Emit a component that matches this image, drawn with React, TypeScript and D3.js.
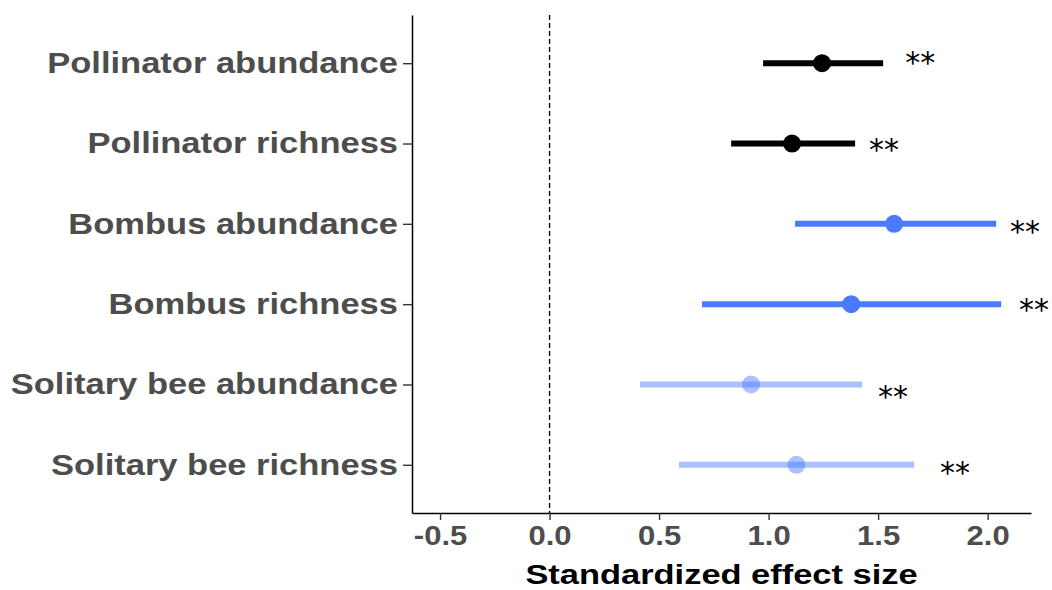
import * as d3 from 'd3';
import { useEffect, useRef } from 'react';

// effect sizes, top row first
const responses = [
  'Pollinator abundance',
  'Pollinator richness',
  'Bombus abundance',
  'Bombus richness',
  'Solitary bee abundance',
  'Solitary bee richness',
];
const estimates = [1.244, 1.107, 1.573, 1.377, 0.92, 1.127];
const lower = [0.975, 0.829, 1.121, 0.696, 0.413, 0.591];
const upper = [1.523, 1.395, 2.039, 2.062, 1.427, 1.665];
const groups = ['all', 'all', 'bombus', 'bombus', 'solitary', 'solitary'];
const signif = ['**', '**', '**', '**', '**', '**'];
// where the significance stars sit (data units)
const starX = [1.692, 1.527, 2.171, 2.212, 1.568, 1.851];
const starY = [6.06, 4.98, 3.96, 2.99, 1.91, 0.96];
const xTicks = [-0.5, 0, 0.5, 1, 1.5, 2];

const groupColor: Record<string, string> = {
  all: '#000000',
  bombus: '#4A7BFF',
  solitary: '#4477FF',
};
const groupOpacity: Record<string, number> = { all: 1, bombus: 1, solitary: 0.45 };

const FONT = 'Liberation Sans, Arial, sans-serif';

export default function App() {
  const ref = useRef<SVGSVGElement>(null);

  useEffect(() => {
    const width = 1052;
    const height = 590;
    const margin = { top: 15, right: 21, bottom: 77, left: 412 };

    const svg = d3.select(ref.current);
    svg.selectAll('*').remove();

    const x = d3.scaleLinear()
      .domain([-0.628, 2.198])
      .range([margin.left, width - margin.right]);

    const y = d3.scaleLinear()
      .domain([0.4, 6.6])
      .range([height - margin.bottom, margin.top]);

    const rowPos = (i: number) => responses.length - i;
    const idx = responses.map((r, i) => i);

    // zero reference line
    svg.append('line')
      .attr('x1', x(0)).attr('x2', x(0))
      .attr('y1', y(6.6)).attr('y2', y(0.4))
      .attr('stroke', '#000')
      .attr('stroke-width', 1.4)
      .attr('stroke-dasharray', '5,3');

    // confidence intervals
    svg.append('g')
      .selectAll('line')
      .data(idx)
      .enter()
      .append('line')
      .attr('x1', (i) => x(lower[i]))
      .attr('x2', (i) => x(upper[i]))
      .attr('y1', (i) => y(rowPos(i)))
      .attr('y2', (i) => y(rowPos(i)))
      .attr('stroke', (i) => groupColor[groups[i]])
      .attr('stroke-width', 6)
      .attr('opacity', (i) => groupOpacity[groups[i]]);

    svg.append('g')
      .selectAll('circle')
      .data(idx)
      .enter()
      .append('circle')
      .attr('cx', (i) => x(estimates[i]))
      .attr('cy', (i) => y(rowPos(i)))
      .attr('r', 9)
      .attr('fill', (i) => groupColor[groups[i]])
      .attr('opacity', (i) => groupOpacity[groups[i]]);

    // significance stars
    svg.append('g')
      .selectAll('text')
      .data(signif)
      .enter()
      .append('text')
      .attr('x', (d, i) => x(starX[i]))
      .attr('y', (d, i) => y(starY[i]))
      .attr('text-anchor', 'middle')
      .attr('dy', '0.5em')
      .attr('font-family', 'DejaVu Sans, sans-serif')
      .attr('font-size', 30)
      .attr('fill', '#000')
      .text((d) => d);

    // y axis
    const yAxis = svg.append('g')
      .attr('transform', `translate(${margin.left},0)`)
      .call(
        d3.axisLeft(y)
          .tickValues(idx.map(rowPos))
          .tickFormat((d) => responses[responses.length - (d as number)])
          .tickSize(9)
          .tickSizeOuter(0)
          .tickPadding(5)
      );
    yAxis.select('.domain').attr('stroke', '#000').attr('stroke-width', 1.5);
    yAxis.selectAll('.tick line').attr('stroke', '#333').attr('stroke-width', 1.4);
    yAxis.selectAll('.tick text')
      .attr('x', 0)
      .attr('transform', 'translate(-14,0) scale(1.19,1)')
      .attr('font-family', FONT)
      .attr('font-weight', 'bold')
      .attr('font-size', 29)
      .attr('fill', '#4D4D4D');

    // x axis
    const xAxis = svg.append('g')
      .attr('transform', `translate(0,${height - margin.bottom})`)
      .call(
        d3.axisBottom(x)
          .tickValues(xTicks)
          .tickFormat((d) => ((d as number) < 0 ? '-' : '') + d3.format('.1f')(Math.abs(d as number)))
          .tickSize(7)
          .tickSizeOuter(0)
          .tickPadding(6)
      );
    xAxis.select('.domain').attr('stroke', '#000').attr('stroke-width', 1.5);
    xAxis.selectAll('.tick line').attr('stroke', '#333').attr('stroke-width', 1.4);
    xAxis.selectAll('.tick text')
      .attr('transform', 'scale(1.15,1)')
      .attr('font-family', FONT)
      .attr('font-weight', 'bold')
      .attr('font-size', 27)
      .attr('fill', '#4D4D4D');

    svg.append('text')
      .attr('transform', `translate(${(x(-0.628) + x(2.198)) / 2},584) scale(1.23,1)`)
      .attr('text-anchor', 'middle')
      .attr('font-family', FONT)
      .attr('font-weight', 'bold')
      .attr('font-size', 28)
      .attr('fill', '#000')
      .text('Standardized effect size');
  }, []);

  return (
    <svg
      ref={ref}
      width={1052}
      height={590}
      style={{ position: 'absolute', left: 0, top: 0, background: '#fff' }}
    />
  );
}
